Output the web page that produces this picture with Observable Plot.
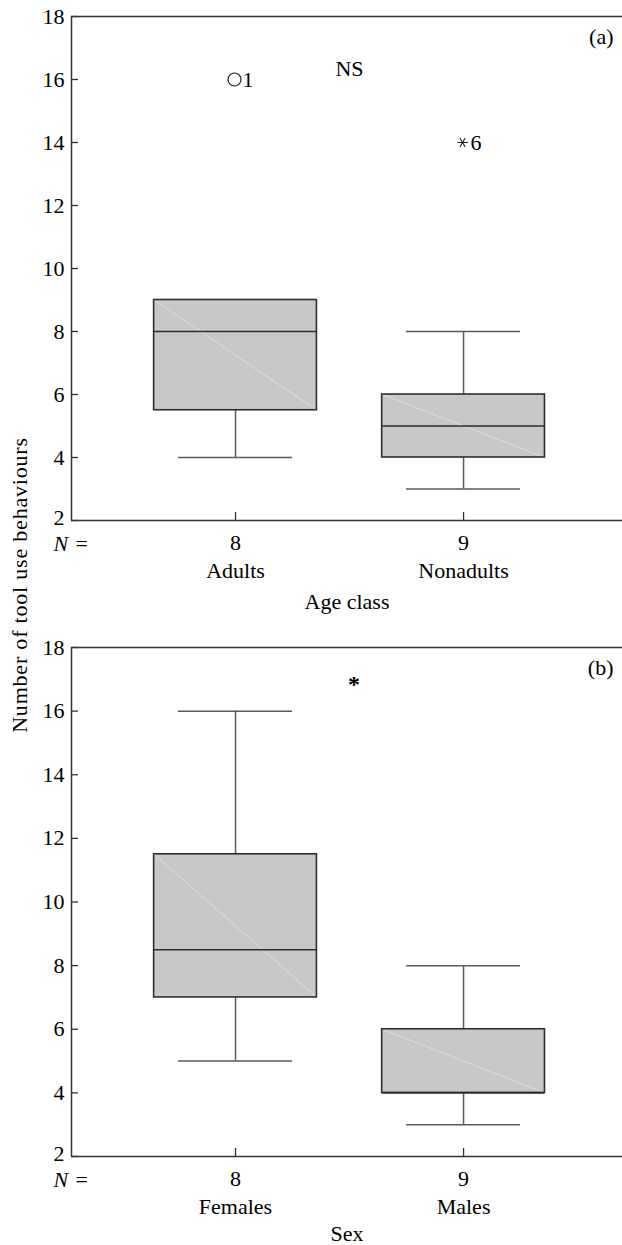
<!DOCTYPE html>
<html><head><meta charset="utf-8">
<script src="https://cdn.jsdelivr.net/npm/d3@7"></script>
<script src="https://cdn.jsdelivr.net/npm/@observablehq/plot@0.6"></script>
<style>
html,body{margin:0;padding:0;background:#fff;}
#wrap{position:relative;width:622px;height:1245px;overflow:hidden;font-family:"Liberation Serif",serif;}
#ylab{position:absolute;left:20px;top:585px;transform:translate(-50%,-50%) rotate(-90deg);white-space:nowrap;font-size:22px;line-height:1;letter-spacing:0.8px;color:#000;}
</style></head><body><div id="wrap"><div id="ylab">Number of tool use behaviours</div></div>
<script>
// ---- data ----
const yTicks = [2, 4, 6, 8, 10, 12, 14, 16, 18];

const ageGroups = ["Adults", "Nonadults"];
const ageN = [8, 9];
const ageLow = [4, 3];
const ageQ1 = [5.5, 4];
const ageMedian = [8, 5];
const ageQ3 = [9, 6];
const ageHigh = [9, 8];
const ageOutliers = [
  {group: "Adults", value: 16, label: "1", kind: "circle"},
  {group: "Nonadults", value: 14, label: "6", kind: "asterisk"}
];
const ageSig = [{label: "NS", x: 1.5, y: 16.35}];

const sexGroups = ["Females", "Males"];
const sexN = [8, 9];
const sexLow = [5, 3];
const sexQ1 = [7, 4];
const sexMedian = [8.5, 4];
const sexQ3 = [11.5, 6];
const sexHigh = [16, 8];
const sexOutliers = [];
const sexSig = [{label: "*", x: 1.52, y: 17}];

// ---- layout ----
const X_DOMAIN = [0.2807, 2.697];
const BOX = 0.357, CAP = 0.25;
const AX = "#333";
const FS = 22;

function panel({groups, n, low, q1, med, q3, high, outliers, sig, sigSize, sigWeight, sigDy, tag, xLabel, titleDy, height, marginTop, marginBottom}) {
  const rows = groups.map((g, i) => ({pos: i + 1, g, n: n[i], low: low[i], q1: q1[i], med: med[i], q3: q3[i], high: high[i]}));
  const outRows = outliers.map(o => ({...o, pos: groups.indexOf(o.group) + 1}));
  const line = {stroke: "#5a5a5a", strokeWidth: 1.5};
  const yMin = yTicks[0];
  const under = {frameAnchor: "bottom", lineAnchor: "middle", fontSize: FS};
  return Plot.plot({
    width: 622, height, marginTop, marginBottom, marginLeft: 71, marginRight: 0,
    style: {fontFamily: "Liberation Serif, serif", fontSize: FS + "px", color: "#000", background: "#fff", overflow: "visible"},
    x: {domain: X_DOMAIN, axis: null},
    y: {domain: [2, 18], axis: null},
    marks: [
      Plot.ruleX(rows, {x: "pos", y1: "q3", y2: "high", ...line}),
      Plot.ruleX(rows, {x: "pos", y1: "low", y2: "q1", ...line}),
      Plot.ruleY(rows, {y: "high", x1: d => d.pos - CAP, x2: d => d.pos + CAP, ...line}),
      Plot.ruleY(rows, {y: "low", x1: d => d.pos - CAP, x2: d => d.pos + CAP, ...line}),
      Plot.rect(rows, {x1: d => d.pos - BOX, x2: d => d.pos + BOX, y1: "q1", y2: "q3", fill: "#c8c8c8"}),
      Plot.link(rows, {x1: d => d.pos - BOX, y1: "q3", x2: d => d.pos + BOX, y2: "q1", stroke: "#e2e2e2", strokeWidth: 0.8}),
      Plot.rect(rows, {x1: d => d.pos - BOX, x2: d => d.pos + BOX, y1: "q1", y2: "q3", fill: "none", stroke: "#2e2e2e", strokeWidth: 1.6}),
      Plot.ruleY(rows, {y: "med", x1: d => d.pos - BOX, x2: d => d.pos + BOX, stroke: "#2e2e2e", strokeWidth: 1.6}),
      // outliers
      Plot.dot(outRows.filter(d => d.kind === "circle"), {x: "pos", y: "value", symbol: "circle", r: 6.5, stroke: "#222", strokeWidth: 1.2, dx: -1}),
      Plot.dot(outRows.filter(d => d.kind === "asterisk"), {x: "pos", y: "value", symbol: "asterisk", r: 5, rotate: 90, stroke: "#222", strokeWidth: 1.1, dx: -1}),
      Plot.text(outRows, {x: "pos", y: "value", text: "label", textAnchor: "start", dx: 7, fontSize: FS}),
      // significance + panel tag
      Plot.text(sig, {x: "x", y: "y", text: "label", fontSize: sigSize, fontWeight: sigWeight, dy: sigDy}),
      Plot.text([tag], {frameAnchor: "top-right", lineAnchor: "middle", text: d => d, dx: -9, dy: 20, fontSize: FS}),
      // frame lines
      Plot.ruleX([X_DOMAIN[0]], {stroke: AX, strokeWidth: 1.5}),
      Plot.ruleY([2, 18], {stroke: AX, strokeWidth: 1.5}),
      // axes
      Plot.axisY(yTicks, {tickSize: -7, tickFormat: () => "", label: null, stroke: AX, strokeWidth: 1.3}),
      Plot.axisY(yTicks.filter(t => t !== yMin), {tickSize: 0, tickPadding: 7, label: null, fontSize: FS}),
      Plot.axisY([yMin], {tickSize: 0, tickPadding: 7, label: null, fontSize: FS, dy: -3}),
      Plot.axisX([1, 2], {tickSize: -8, tickFormat: () => "", label: null, stroke: AX, strokeWidth: 1.3}),
      // under-axis rows
      Plot.text(["N"], {...under, frameAnchor: "bottom-left", text: d => d, dx: -18, dy: 23, textAnchor: "start", fontStyle: "italic"}),
      Plot.text(["="], {...under, frameAnchor: "bottom-left", text: d => d, dx: 4, dy: 23, textAnchor: "start"}),
      Plot.text(rows, {...under, x: "pos", text: d => String(d.n), dy: 22}),
      Plot.text(rows, {...under, x: "pos", text: "g", dy: 50}),
      Plot.text([xLabel], {...under, text: d => d, dy: titleDy})
    ]
  });
}

const wrap = document.getElementById("wrap");
wrap.appendChild(panel({
  groups: ageGroups, n: ageN, low: ageLow, q1: ageQ1, med: ageMedian, q3: ageQ3, high: ageHigh,
  outliers: ageOutliers, sig: ageSig, sigSize: FS, sigWeight: "normal", sigDy: 0,
  tag: "(a)", xLabel: "Age class", titleDy: 81, height: 625, marginTop: 16, marginBottom: 105
}));
wrap.appendChild(panel({
  groups: sexGroups, n: sexN, low: sexLow, q1: sexQ1, med: sexMedian, q3: sexQ3, high: sexHigh,
  outliers: sexOutliers, sig: sexSig, sigSize: 24, sigWeight: "bold", sigDy: 5,
  tag: "(b)", xLabel: "Sex", titleDy: 77, height: 620, marginTop: 22, marginBottom: 89
}));
</script></body></html>
